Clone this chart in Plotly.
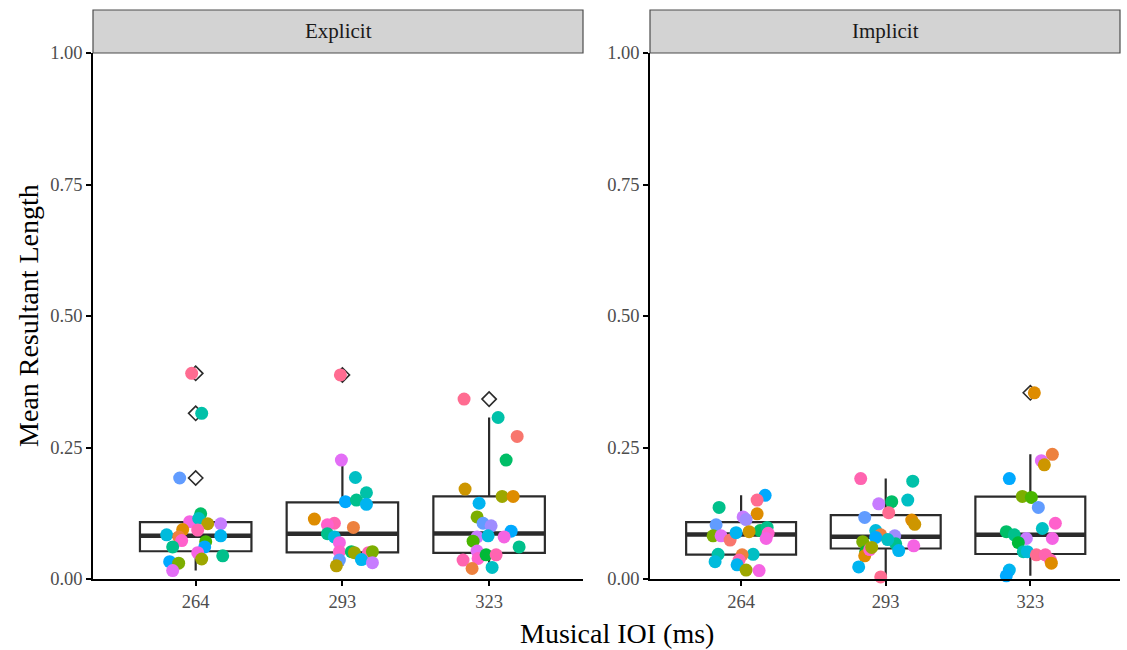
import math
import numpy as np
import plotly.graph_objects as go

# ---------------- data ----------------
conditions = ["Explicit", "Implicit"]
ioi_labels = ["264", "293", "323"]

# mean resultant length per participant
exp_264 = [0.391, 0.315, 0.192, 0.124, 0.109, 0.115, 0.105, 0.105, 0.094, 0.093, 0.084, 0.082,
           0.080, 0.073, 0.061, 0.071, 0.061, 0.050, 0.044, 0.038, 0.033, 0.030, 0.016]
exp_293 = [0.388, 0.226, 0.193, 0.164, 0.147, 0.150, 0.142, 0.114, 0.106, 0.103, 0.098, 0.086,
           0.080, 0.069, 0.052, 0.052, 0.050, 0.050, 0.052, 0.036, 0.037, 0.031, 0.025]
exp_323 = [0.342, 0.307, 0.271, 0.226, 0.171, 0.157, 0.157, 0.144, 0.118, 0.106, 0.101, 0.091,
           0.080, 0.082, 0.080, 0.072, 0.061, 0.053, 0.039, 0.046, 0.046, 0.036, 0.020, 0.022]
imp_264 = [0.159, 0.150, 0.136, 0.124, 0.118, 0.113, 0.103, 0.092, 0.098, 0.087, 0.077, 0.082,
           0.082, 0.074, 0.047, 0.033, 0.047, 0.046, 0.036, 0.027, 0.017, 0.016, 0.088, 0.090]
imp_293 = [0.191, 0.186, 0.150, 0.147, 0.143, 0.126, 0.117, 0.112, 0.104, 0.092, 0.084, 0.079,
           0.082, 0.071, 0.067, 0.063, 0.052, 0.044, 0.056, 0.054, 0.023, 0.004, 0.060, 0.075]
imp_323 = [0.354, 0.237, 0.225, 0.217, 0.191, 0.157, 0.155, 0.136, 0.096, 0.106, 0.090, 0.084,
           0.077, 0.077, 0.069, 0.052, 0.052, 0.046, 0.046, 0.036, 0.030, 0.017, 0.006]

# horizontal jitter of each point (in pixels of the original)
jit_exp_264 = [-4, 6, -16, 5, -6, 3, 12, 25, -13, 2, -29, 25, -17, -14, -23, 10, 9, 2, 27, 6, -26, -17, -23]
jit_exp_293 = [-2, -1, 13, 24, 3, 14, 24, -28, -8, -15, 11, -15, -8, -3, -3, 9, 12, 26, 30, -3, 19, 30, -6]
jit_exp_323 = [-25, 9, 28, 17, -24, 13, 24, -10, -12, -6, 2, 22, -12, -1, 15, -16, 30, -12, -11, -3, 7, -26, -17, 3]
jit_imp_264 = [24, 16, -22, 16, 2, 5, -25, 19, 26, 27, 25, -28, -20, -11, -23, -26, 12, 1, -2, -4, 5, 18, -5, 8]
jit_imp_293 = [-25, 27, 22, 6, -7, 3, -21, 26, 29, -10, -5, -10, 9, -23, 10, 28, -20, -21, -16, 13, -27, -5, -14, 2]
jit_imp_323 = [4, 22, 11, 14, -21, -8, 1, 8, 12, 25, -24, -16, -4, 22, -12, -7, -3, 6, 15, 20, 21, -21, -24]

# participant (colour) index of each point
pid_exp_264 = [23, 11, 16, 9, 20, 12, 4, 18, 2, 22, 13, 14, 1, 21, 10, 7, 15, 20, 10, 5, 15, 6, 19]
pid_exp_293 = [23, 19, 12, 11, 15, 10, 14, 2, 22, 21, 1, 10, 13, 20, 21, 9, 5, 22, 6, 16, 14, 18, 4]
pid_exp_323 = [23, 11, 0, 9, 3, 5, 2, 14, 6, 16, 17, 15, 18, 13, 20, 7, 10, 19, 21, 8, 22, 22, 1, 12]
pid_imp_264 = [15, 23, 10, 2, 18, 17, 16, 9, 10, 21, 20, 6, 19, 0, 11, 13, 12, 1, 22, 14, 5, 20, 14, 3]
pid_imp_293 = [22, 11, 12, 9, 18, 23, 16, 2, 3, 13, 1, 15, 17, 6, 10, 20, 8, 2, 21, 14, 14, 23, 5, 12]
pid_imp_323 = [2, 1, 19, 3, 15, 6, 7, 16, 12, 21, 9, 10, 18, 20, 8, 11, 13, 23, 22, 22, 2, 14, 15]

values = {"Explicit": [exp_264, exp_293, exp_323], "Implicit": [imp_264, imp_293, imp_323]}
jitters = {"Explicit": [jit_exp_264, jit_exp_293, jit_exp_323], "Implicit": [jit_imp_264, jit_imp_293, jit_imp_323]}
pids = {"Explicit": [pid_exp_264, pid_exp_293, pid_exp_323], "Implicit": [pid_imp_264, pid_imp_293, pid_imp_323]}
N_PART = 24

# ---------------- styling ----------------
def hcl_hex(h, c=100.0, l=65.0):
    hr = math.radians(h)
    U, V = c * math.cos(hr), c * math.sin(hr)
    Y = 100.0 * (((l + 16) / 116) ** 3 if l > 7.999592 else l / 903.3)
    Xn, Yn, Zn = 95.047, 100.0, 108.883
    den = Xn + 15 * Yn + 3 * Zn
    un, vn = 4 * Xn / den, 9 * Yn / den
    u = U / (13 * l) + un
    v = V / (13 * l) + vn
    X = 9.0 * Y * u / (4 * v)
    Z = -X / 3 - 5 * Y + 3 * Y / v
    x, y, z = X / 100, Y / 100, Z / 100
    rgb = [3.240479 * x - 1.537150 * y - 0.498535 * z,
           -0.969256 * x + 1.875992 * y + 0.041556 * z,
           0.055648 * x - 0.204043 * y + 1.057311 * z]
    out = []
    for ch in rgb:
        ch = 12.92 * ch if ch <= 0.0031308 else 1.055 * ch ** (1 / 2.4) - 0.055
        out.append(int(round(min(max(ch, 0), 1) * 255)))
    return "#%02X%02X%02X" % tuple(out)

palette = [hcl_hex(15 + 360.0 * i / N_PART) for i in range(N_PART)]

W, H = 1127, 650
FONT = "Liberation Serif"
panel_px = {"Explicit": (93, 583), "Implicit": (650, 1120)}
xranges = {"Explicit": [-0.70, 2.64], "Implicit": [-0.63, 2.62]}
y_bot, y_top = 579, 53
strip_top = 10
box_w = 0.76
jit_scale = {"Explicit": 146.5, "Implicit": 144.5}
ink = "#2B2B2B"

fig = go.Figure()
for k, cond in enumerate(conditions):
    xa = "x" if k == 0 else "x2"
    ya = "y" if k == 0 else "y2"
    for j in range(3):
        vals = values[cond][j]
        fig.add_trace(go.Box(
            y=vals, x=[j] * len(vals), xaxis=xa, yaxis=ya, width=box_w,
            boxpoints="outliers", jitter=0, pointpos=0, quartilemethod="linear",
            whiskerwidth=0, fillcolor="rgba(255,255,255,0)",
            line=dict(color=ink, width=2.2),
            marker=dict(symbol="diamond-open", size=11, color=ink, line=dict(width=1.6, color=ink)),
            showlegend=False, hoverinfo="skip"))
        med = float(np.median(vals))
        fig.add_trace(go.Scatter(
            x=[j - box_w / 2, j + box_w / 2], y=[med, med], xaxis=xa, yaxis=ya,
            mode="lines", line=dict(color=ink, width=4.5), showlegend=False, hoverinfo="skip"))
    for j in range(3):
        vals = values[cond][j]
        xs = [j + d / jit_scale[cond] for d in jitters[cond][j]]
        cols = [palette[p] for p in pids[cond][j]]
        fig.add_trace(go.Scatter(
            x=xs, y=vals, xaxis=xa, yaxis=ya, mode="markers", cliponaxis=False,
            marker=dict(size=13, color=cols, line=dict(width=0)),
            showlegend=False, hoverinfo="skip"))

ydom = [1 - y_bot / H, 1 - y_top / H]
tickfont = dict(family=FONT, size=18.5, color="#4D4D4D")
common_x = dict(tickvals=[0, 1, 2], ticktext=ioi_labels, showline=True, linecolor="black", linewidth=1.5,
                ticks="outside", ticklen=5, tickwidth=1.5, tickcolor="black", tickfont=tickfont,
                showgrid=False, zeroline=False, fixedrange=True, automargin=False)
common_y = dict(range=[0, 1], tickvals=[0, 0.25, 0.5, 0.75, 1.0],
                ticktext=["0.00", "0.25", "0.50", "0.75", "1.00"], showline=True, linecolor="black",
                linewidth=1.5, ticks="outside", ticklen=5, tickwidth=1.5, tickcolor="black",
                tickfont=tickfont, showgrid=False, zeroline=False, domain=ydom, fixedrange=True,
                automargin=False)

layout = dict(width=W, height=H, margin=dict(l=0, r=0, t=0, b=0, autoexpand=False),
              paper_bgcolor="white", plot_bgcolor="white", boxmode="overlay", showlegend=False)
shapes, annotations = [], []
for k, cond in enumerate(conditions):
    x0, x1 = panel_px[cond]
    suffix = "" if k == 0 else "2"
    layout["xaxis" + suffix] = dict(common_x, domain=[x0 / W, x1 / W], range=xranges[cond],
                                    anchor="y" + suffix)
    layout["yaxis" + suffix] = dict(common_y, anchor="x" + suffix)
    shapes.append(dict(type="rect", xref="paper", yref="paper", x0=x0 / W, x1=x1 / W,
                       y0=1 - y_top / H, y1=1 - strip_top / H, fillcolor="#D3D3D3",
                       line=dict(color="#4D4D4D", width=1.2), layer="below"))
    annotations.append(dict(text=cond, xref="paper", yref="paper", x=(x0 + x1) / 2 / W,
                            y=1 - (strip_top + y_top) / 2 / H, showarrow=False,
                            font=dict(family=FONT, size=21, color="#1A1A1A"),
                            xanchor="center", yanchor="middle"))
annotations.append(dict(text="Mean Resultant Length", xref="paper", yref="paper", x=28 / W,
                        y=1 - (y_top + y_bot) / 2 / H, showarrow=False, textangle=-90,
                        font=dict(family=FONT, size=28, color="black"),
                        xanchor="center", yanchor="middle"))
annotations.append(dict(text="Musical IOI (ms)", xref="paper", yref="paper", x=617 / W,
                        y=1 - 633 / H, showarrow=False,
                        font=dict(family=FONT, size=28, color="black"),
                        xanchor="center", yanchor="middle"))
layout["shapes"] = shapes
layout["annotations"] = annotations
fig.update_layout(**layout)
fig.write_html("out.html")
